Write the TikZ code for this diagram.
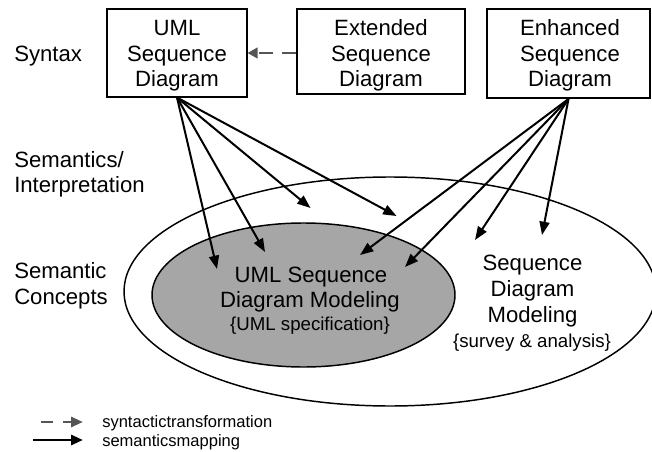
\documentclass[tikz,border=0pt]{standalone}
\usepackage{fontspec}
\setmainfont{Liberation Sans}
\usetikzlibrary{arrows.meta,shapes.geometric}
\definecolor{ellgray}{HTML}{A6A6A6}
\definecolor{dashgray}{HTML}{555555}
\begin{document}
\begin{tikzpicture}[x=0.75pt,y=-0.75pt,
  big/.style={font=\fontsize{16.6}{19}\selectfont, anchor=base, inner sep=0pt},
  bigl/.style={big, anchor=base west},
  small/.style={font=\fontsize{14}{16}\selectfont, anchor=base, inner sep=0pt},
  leg/.style={font=\fontsize{12.4}{14}\selectfont, anchor=base west, inner sep=0pt},
  box/.style={draw, line width=0.8pt, inner sep=0pt},
  map/.style={line width=1.5pt, -{Triangle[length=10pt,width=7.5pt]}},
  trans/.style={draw=dashgray, line width=1.5pt, dash pattern=on 10.5pt off 6.75pt, -{Triangle[length=7.5pt,width=8pt]}},
  legtrans/.style={draw=dashgray, line width=2.2pt, dash pattern=on 9pt off 7.5pt, -{Triangle[length=9pt,width=7.5pt]}},
  legmap/.style={line width=2.2pt, -{Triangle[length=9pt,width=7.5pt]}}
]
\useasboundingbox (0,0) rectangle (652,452);
% ellipses
\node[ellipse, draw, line width=1.1pt, minimum width=399pt, minimum height=171.75pt, inner sep=0pt] (outer) at (390,291.5) {};
\node[ellipse, draw, fill=ellgray, line width=1.1pt, minimum width=227.25pt, minimum height=108pt, inner sep=0pt] (inner) at (303.5,295) {};
% boxes
\node[box, minimum width=105pt, minimum height=66pt] (uml) at (177,53) {};
\node[box, minimum width=126pt, minimum height=63.75pt] (ext) at (381,51.5) {};
\node[box, line width=1.5pt, minimum width=122.25pt, minimum height=66.75pt] (enh) at (568.5,53.5) {};
% box texts
\node[big] (u1) at (177,36) {UML};
\node[big] (u2) at (177,62) {Sequence};
\node[big] (u3) at (177,87) {Diagram};
\node[big] (x1) at (381,36) {Extended};
\node[big] (x2) at (381,62) {Sequence};
\node[big] (x3) at (381,87) {Diagram};
\node[big] (e1) at (570,36) {Enhanced};
\node[big] (e2) at (570,62) {Sequence};
\node[big] (e3) at (570,87) {Diagram};
% row labels
\node[bigl] (syn) at (14,62) {Syntax};
\node[bigl] (sem1) at (14,168) {Semantics/};
\node[bigl] (sem2) at (14,193) {Interpretation};
\node[bigl] (con1) at (14,278) {Semantic};
\node[bigl] (con2) at (14,304) {Concepts};
% ellipse texts
\node[big] (i1) at (311,282) {UML Sequence};
\node[big] (i2) at (310,307) {Diagram Modeling};
\node[small] (i3) at (310,330) {\{UML specification\}};
\node[big] (r1) at (532.5,270) {Sequence};
\node[big] (r2) at (532.5,296) {Diagram};
\node[big] (r3) at (532.5,322) {Modeling};
\node[small] (r4) at (532,347) {\{survey \& analysis\}};
% arrow targets
\coordinate (t1) at (217,269);
\coordinate (t2) at (265,252);
\coordinate (t3) at (310.5,208);
\coordinate (t4) at (396.5,216);
\coordinate (t5) at (360,255);
\coordinate (t6) at (405,267);
\coordinate (t7) at (475,240);
\coordinate (t8) at (542,235);
\draw[map] (uml.south) -- (t1);
\draw[map] (uml.south) -- (t2);
\draw[map] (uml.south) -- (t3);
\draw[map] (uml.south) -- (t4);
\draw[map] (enh.south) -- (t5);
\draw[map] (enh.south) -- (t6);
\draw[map] (enh.south) -- (t7);
\draw[map] (enh.south) -- (t8);
\draw[trans] (ext.west |- uml.east) -- (uml.east);
% legend
\coordinate (la1) at (41,422);
\coordinate (la2) at (83,422);
\coordinate (lb1) at (33,440);
\coordinate (lb2) at (83,440);
\draw[legtrans] (la1) -- (la2);
\draw[legmap] (lb1) -- (lb2);
\node[leg] (lt1) at (102,427) {syntactictransformation};
\node[leg] (lt2) at (102,446) {semanticsmapping};
\end{tikzpicture}
\end{document}
